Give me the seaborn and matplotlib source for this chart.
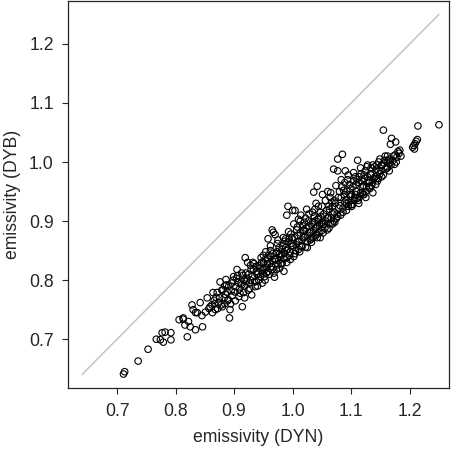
import matplotlib
matplotlib.use("Agg")
import matplotlib.pyplot as plt
import seaborn as sns
import pandas as pd

# emissivity pairs (DYN, DYB)
dyn_tail = [0.711, 0.713, 0.736, 0.753, 0.767, 0.774, 0.779, 0.777, 0.782, 0.792,
            0.792, 0.806, 0.813, 0.822, 0.816, 0.825, 0.834, 0.846, 0.820, 0.828,
            0.830, 0.837, 0.842, 0.851, 0.854, 0.859, 0.834, 0.813, 0.845, 0.857]
dyb_tail = [0.641, 0.645, 0.663, 0.683, 0.700, 0.699, 0.695, 0.711, 0.712, 0.711,
            0.699, 0.733, 0.734, 0.730, 0.724, 0.721, 0.716, 0.721, 0.704, 0.758,
            0.750, 0.745, 0.762, 0.746, 0.770, 0.755, 0.745, 0.736, 0.740, 0.752]

dyn_low = [0.862, 0.864, 0.866, 0.868, 0.863, 0.869, 0.867,
           0.871, 0.873, 0.876, 0.875, 0.878, 0.879, 0.872,
           0.881, 0.883, 0.885, 0.887, 0.889, 0.884, 0.886,
           0.890, 0.893, 0.892, 0.899, 0.895, 0.897, 0.891, 0.896,
           0.905, 0.907, 0.901, 0.903, 0.908, 0.904, 0.909,
           0.914, 0.919, 0.916, 0.912, 0.915, 0.918, 0.913, 0.917,
           0.923, 0.921, 0.925, 0.927, 0.929, 0.922, 0.926, 0.928,
           0.931, 0.933, 0.935, 0.937, 0.939, 0.932, 0.936, 0.938,
           0.941, 0.943, 0.945, 0.947, 0.949, 0.942, 0.946, 0.948]
dyb_low = [0.758, 0.779, 0.766, 0.750, 0.745, 0.771, 0.760,
           0.779, 0.762, 0.797, 0.770, 0.758, 0.783, 0.752,
           0.784, 0.770, 0.776, 0.792, 0.765, 0.760, 0.801,
           0.767, 0.750, 0.736, 0.806, 0.782, 0.774, 0.790, 0.795,
           0.818, 0.796, 0.780, 0.789, 0.772, 0.803, 0.785,
           0.755, 0.838, 0.779, 0.795, 0.808, 0.790, 0.812, 0.800,
           0.830, 0.798, 0.810, 0.786, 0.818, 0.803, 0.795, 0.825,
           0.806, 0.818, 0.797, 0.823, 0.810, 0.830, 0.789, 0.815,
           0.812, 0.825, 0.806, 0.830, 0.818, 0.800, 0.838, 0.812]

dyn_mid = [0.951, 0.953, 0.955, 0.957, 0.959, 0.952, 0.956, 0.958, 0.954, 0.950,
           0.961, 0.963, 0.965, 0.967, 0.969, 0.962, 0.964, 0.966, 0.968, 0.970,
           0.971, 0.973, 0.975, 0.977, 0.979, 0.972, 0.974, 0.976, 0.978, 0.980,
           0.981, 0.983, 0.985, 0.987, 0.989, 0.982, 0.984, 0.986, 0.988, 0.990,
           0.991, 0.993, 0.995, 0.997, 0.999, 0.992, 0.994, 0.996, 0.998, 0.990,
           1.001, 1.003, 1.005, 1.007, 1.009, 1.002, 1.004, 1.006, 1.008, 1.010,
           1.011, 1.013, 1.015, 1.017, 1.019, 1.012, 1.014, 1.016, 1.018, 1.020,
           1.021, 1.023, 1.025, 1.027, 1.029, 1.022, 1.024, 1.026, 1.028, 1.030,
           1.031, 1.033, 1.035, 1.037, 1.039, 1.032, 1.034, 1.036, 1.038, 1.040,
           1.041, 1.043, 1.045, 1.047, 1.049, 1.042, 1.044, 1.046, 1.048, 1.050]
dyb_mid = [0.820, 0.835, 0.812, 0.828, 0.842, 0.806, 0.822, 0.815, 0.848, 0.830,
           0.828, 0.840, 0.818, 0.881, 0.835, 0.850, 0.823, 0.845, 0.812, 0.877,
           0.836, 0.848, 0.826, 0.855, 0.840, 0.818, 0.862, 0.833, 0.845, 0.828,
           0.843, 0.858, 0.836, 0.866, 0.850, 0.828, 0.872, 0.845, 0.855, 0.838,
           0.852, 0.865, 0.842, 0.878, 0.858, 0.925, 0.870, 0.848, 0.862, 0.910,
           0.858, 0.872, 0.850, 0.885, 0.865, 0.840, 0.918, 0.860, 0.876, 0.903,
           0.866, 0.880, 0.858, 0.892, 0.872, 0.848, 0.910, 0.868, 0.884, 0.898,
           0.874, 0.888, 0.865, 0.900, 0.880, 0.856, 0.920, 0.876, 0.892, 0.868,
           0.882, 0.895, 0.872, 0.908, 0.888, 0.864, 0.915, 0.884, 0.900, 0.876,
           0.890, 0.903, 0.880, 0.915, 0.896, 0.872, 0.925, 0.892, 0.908, 0.884]

dyn_high = [1.051, 1.053, 1.055, 1.051, 1.059, 1.052, 1.042, 1.056, 1.058, 1.036,
            1.061, 1.063, 1.065, 1.067, 1.069, 1.062, 1.064, 1.066, 1.068, 1.070,
            1.071, 1.073, 1.075, 1.077, 1.079, 1.072, 1.070, 1.076, 1.078, 1.077,
            1.081, 1.083, 1.085, 1.087, 1.089, 1.082, 1.084, 1.086, 1.088, 1.090,
            1.091, 1.093, 1.095, 1.097, 1.099, 1.092, 1.094, 1.096, 1.098, 1.100,
            1.101, 1.103, 1.105, 1.107, 1.109, 1.102, 1.104, 1.106, 1.108, 1.110,
            1.111, 1.113, 1.115, 1.117, 1.119, 1.112, 1.114, 1.116, 1.118, 1.120,
            1.121, 1.123, 1.125, 1.127, 1.129, 1.122, 1.124, 1.126, 1.128,
            1.131, 1.133, 1.135, 1.137, 1.139, 1.132, 1.134, 1.136,
            1.141, 1.143, 1.145, 1.147, 1.149, 1.142, 1.144, 1.146]
dyb_high = [0.898, 0.912, 0.888, 0.945, 0.905, 0.880, 0.959, 0.900, 0.918, 0.949,
            0.906, 0.920, 0.896, 0.932, 0.912, 0.888, 0.940, 0.905, 0.925, 0.900,
            0.915, 0.930, 0.905, 0.985, 0.922, 0.898, 0.988, 0.912, 0.940, 1.005,
            0.926, 0.940, 1.013, 0.952, 0.932, 0.910, 0.958, 0.922, 0.945, 0.985,
            0.936, 0.950, 0.925, 0.962, 0.942, 0.918, 0.970, 0.932, 0.955, 0.928,
            0.945, 0.958, 0.935, 0.975, 0.950, 0.928, 0.968, 0.940, 0.962, 0.938,
            1.003, 0.965, 0.942, 0.980, 0.958, 0.935, 0.975, 0.948, 0.968, 0.945,
            0.960, 0.972, 0.950, 0.992, 0.965, 0.945, 0.985, 0.958, 0.975,
            0.968, 0.980, 0.960, 0.995, 0.972, 0.955, 0.990, 0.965,
            0.975, 0.988, 0.968, 1.000, 0.980, 0.962, 0.995, 0.972]

dyn_top = [1.151, 1.153, 1.155, 1.157, 1.159, 1.152, 1.156,
           1.161, 1.163, 1.165, 1.167, 1.169, 1.162, 1.166,
           1.171, 1.175, 1.178, 1.182, 1.185, 1.180, 1.176, 1.174,
           1.205, 1.207, 1.209, 1.211, 1.213, 1.208, 1.214, 1.250]
dyb_top = [0.985, 0.995, 1.054, 1.003, 0.988, 0.975, 0.998,
           0.992, 1.002, 0.985, 1.030, 1.040, 1.010, 0.998,
           1.002, 1.012, 1.008, 1.015, 1.010, 1.018, 1.034, 0.996,
           1.025, 1.028, 1.031, 1.035, 1.038, 1.022, 1.061, 1.063]

# extra points filling out the width of the dense band
dyn_fill = [0.880, 0.884, 0.888, 0.894, 0.898, 0.902, 0.906, 0.910, 0.913, 0.918,
            0.920, 0.924, 0.928, 0.930, 0.934, 0.938, 0.940, 0.944, 0.948, 0.950,
            0.953, 0.957, 0.960, 0.962, 0.966, 0.969, 0.972, 0.975, 0.978, 0.982,
            0.985, 0.988, 0.990, 0.993, 0.996, 0.999, 1.002, 1.004, 1.008, 1.010,
            1.013, 1.016, 1.019, 1.022, 1.025, 1.028, 1.031, 1.034, 1.038, 1.041,
            1.044, 1.047, 1.050, 1.053, 1.056, 1.059, 1.062, 1.065, 1.068, 1.071,
            1.074, 1.077, 1.080, 1.083, 1.086, 1.089, 1.092, 1.095, 1.098, 1.101,
            1.104, 1.107, 1.110, 1.113, 1.116, 1.119, 1.122, 1.125, 1.128, 1.131,
            1.134, 1.137, 1.140, 1.143, 1.146, 1.149, 1.152, 1.155, 1.158, 1.162,
            1.165, 1.168, 1.172, 1.177, 1.183, 0.965, 0.958, 1.060, 1.000, 1.040]
dyb_fill = [0.755, 0.790, 0.780, 0.760, 0.800, 0.765, 0.808, 0.778, 0.792, 0.770,
            0.812, 0.783, 0.800, 0.775, 0.828, 0.798, 0.790, 0.820, 0.795, 0.842,
            0.800, 0.836, 0.810, 0.858, 0.832, 0.805, 0.845, 0.868, 0.820, 0.852,
            0.815, 0.870, 0.830, 0.882, 0.835, 0.872, 0.895, 0.845, 0.890, 0.852,
            0.900, 0.856, 0.885, 0.905, 0.855, 0.912, 0.870, 0.898, 0.920, 0.878,
            0.905, 0.872, 0.925, 0.895, 0.935, 0.885, 0.925, 0.948, 0.895, 0.935,
            0.960, 0.908, 0.950, 0.970, 0.915, 0.965, 0.930, 0.978, 0.945, 0.925,
            0.982, 0.945, 0.970, 0.930, 0.990, 0.948, 0.978, 0.940, 0.995, 0.958,
            0.978, 0.948, 0.992, 0.972, 0.985, 1.005, 0.995, 0.978, 1.010, 0.990,
            1.005, 0.995, 1.010, 1.000, 1.020, 0.885, 0.870, 0.950, 0.918, 0.930]

# 1:1 reference line
line_x = [0.64, 1.25]
line_y = [0.64, 1.25]

df = pd.DataFrame({
    'DYN': dyn_tail + dyn_low + dyn_mid + dyn_high + dyn_top + dyn_fill,
    'DYB': dyb_tail + dyb_low + dyb_mid + dyb_high + dyb_top + dyb_fill,
})

sns.set_style('ticks')
plt.rcParams['font.family'] = ['Liberation Sans', 'DejaVu Sans']

fig = plt.figure(figsize=(4.53, 4.49), dpi=100)
ax = fig.add_axes([0.1495, 0.136, 0.8415, 0.861])

sns.lineplot(x=line_x, y=line_y, color='#c4c4c4', linewidth=1.1, ax=ax)
sns.scatterplot(data=df, x='DYN', y='DYB', marker='o', s=22,
                facecolors='none', edgecolor='black', linewidth=0.8, ax=ax)
for coll in ax.collections:
    coll.set_facecolor('none')

ax.set_xlim(0.6157, 1.267)
ax.set_ylim(0.6175, 1.272)
ax.set_xticks([0.7, 0.8, 0.9, 1.0, 1.1, 1.2])
ax.set_yticks([0.7, 0.8, 0.9, 1.0, 1.1, 1.2])
ax.set_xticklabels(['0.7', '0.8', '0.9', '1.0', '1.1', '1.2'])
ax.set_yticklabels(['0.7', '0.8', '0.9', '1.0', '1.1', '1.2'])
ax.tick_params(axis='both', direction='out', length=4, width=0.8, labelsize=12.7)
ax.tick_params(axis='x', pad=7)
ax.tick_params(axis='y', pad=6)
for sp in ax.spines.values():
    sp.set_linewidth(0.9)
    sp.set_visible(True)
ax.set_xlabel('emissivity (DYN)', fontsize=12.7, labelpad=6)
ax.set_ylabel('emissivity (DYB)', fontsize=12.7, labelpad=6)

fig.savefig('out.png', dpi=100)
